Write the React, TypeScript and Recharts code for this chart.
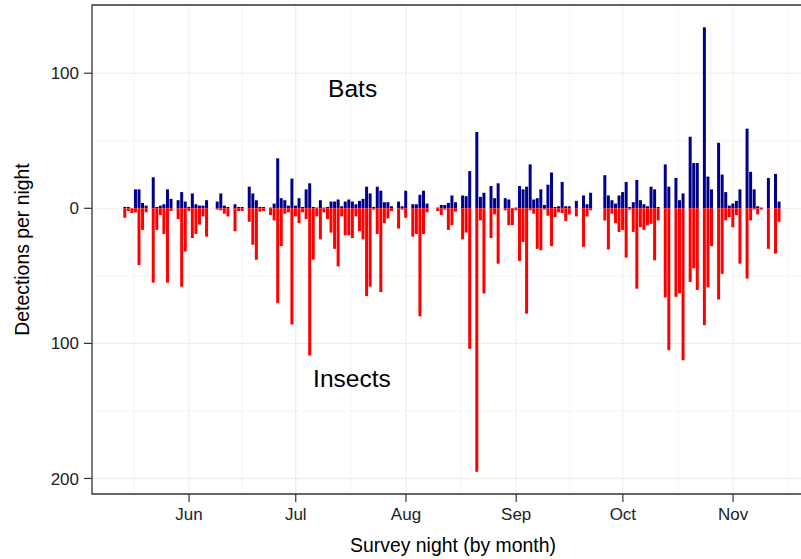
import React from 'react';
import {
  BarChart,
  Bar,
  XAxis,
  YAxis,
  CartesianGrid,
  ReferenceArea,
  ReferenceDot,
} from 'recharts';

// Survey nights, as days relative to 1 June (negative = May)
const nights = [
  -18, -17, -16, -15, -14, -13, -12, -10, -9, -8, -7, -6, -5, -3, -2, -1,
  0, 1, 2, 3, 4, 5, 8, 9, 10, 11, 13, 14, 15, 17, 18, 19, 20, 21, 23, 24,
  25, 26, 27, 28, 29, 30, 31, 32, 33, 34, 35, 36, 37, 38, 39, 40, 41, 42,
  43, 44, 45, 46, 47, 48, 49, 50, 51, 52, 53, 54, 55, 56, 57, 59, 60, 61,
  63, 64, 65, 66, 67, 70, 71, 72, 73, 74, 75, 77, 78, 79, 81, 82, 83, 85,
  86, 87, 89, 90, 91, 92, 93, 94, 95, 96, 97, 98, 99, 100, 101, 102, 103,
  104, 105, 106, 107, 109, 111, 112, 113, 117, 118, 119, 120, 121, 122,
  123, 124, 125, 126, 127, 128, 129, 130, 131, 132, 134, 135, 137, 138,
  139, 141, 142, 143, 145, 146, 147, 149, 150, 151, 152, 153, 154, 155,
  157, 158, 159, 160, 161, 163, 165, 166,
];

// Bat detections per night
const bats = [
  1, 1, 0, 14, 14, 4, 2, 23, 1, 2, 3, 14, 7, 6, 12, 5,
  1, 11, 3, 2, 2, 6, 5, 11, 2, 1, 3, 1, 1, 16, 11, 6, 1, 1, 0.5, 3.5,
  37, 7.5, 6, 2, 22, 2, 7.5, 1, 14, 18.5, 1, 0.5, 6, 0.5, 1, 5, 5, 6.5,
  1.5, 5, 6.5, 5, 3, 5.5, 7, 16, 11, 1, 16, 13, 4.5, 4.5, 1.5, 5, 1.5, 13,
  3, 3, 10, 13, 3.5, 0.5, 2.5, 2.5, 4, 9.5, 4.5, 9.5, 9, 27.5, 56.5, 8.5, 11.5, 16.5,
  7.5, 18.5, 7.5, 6.5, 0, 0.5, 16.5, 14, 16, 32.5, 6.5, 7.5, 14, 2.5, 17.5, 26.5, 1,
  1.5, 19.5, 1.5, 1.5, 5.5, 9.5, 3, 11.5, 24.5, 9.5, 6, 3.5, 9.5, 12,
  19.5, 1, 4.5, 21, 6, 3, 1.5, 16, 14, 1, 32.5, 16, 22.5, 6,
  11, 53, 33.5, 33.5, 134, 23.5, 14, 48.5, 25, 12, 2, 3.5, 5.5, 14,
  59, 27, 14, 1.5, 0.5, 22.5, 25.5, 5,
];

// Insect detections per night (drawn downwards)
const insects = [
  7, 2, 3.5, 3, 42, 16, 3, 55, 16, 5, 19, 55, 2, 8, 58, 32,
  2, 22, 19, 12, 6, 21, 1, 1.5, 4, 6, 17, 2, 2, 10, 27, 38, 2.5, 2, 5, 9,
  70, 28, 4, 3, 86, 6, 11, 3, 8, 109, 38, 6, 23, 3, 8, 18, 30, 43,
  6, 20, 20, 22, 6, 17, 23, 65, 58, 1, 19, 62, 11, 7.5, 2, 15, 1, 7,
  21, 19, 80, 19, 3, 2, 5, 1, 16, 12.5, 2.5, 23, 18, 104, 195, 9, 63, 22,
  4.5, 41, 1.5, 12.5, 12.5, 1.5, 39, 25, 78, 1.5, 4, 30, 31, 1, 5.5, 28, 6.5,
  3, 3.5, 9.5, 4.5, 6, 28.5, 6, 1.5, 9, 30.5, 4, 11, 17.5, 16,
  36.5, 1, 17.5, 59.5, 14, 16, 12.5, 11.5, 38.5, 9, 66, 105, 65.5, 63,
  112.5, 54.5, 44.5, 60.5, 86.5, 58.5, 28, 67.5, 48.5, 9, 6.5, 14, 5, 41,
  52, 9, 1, 4.5, 1, 30, 33.5, 10,
];

// Month axis (days relative to 1 June)
const monthTicks = [0, 30, 61, 92, 122, 153];
const monthLabels = ['Jun', 'Jul', 'Aug', 'Sep', 'Oct', 'Nov'];
const minorMonthLines = [-15.5, 15, 45.5, 76.5, 107, 137.5, 168.5];

const yTicks = [100, 0, -100, -200];
const minorYLines = [50, -50, -150];

const X_DOMAIN: [number, number] = [-27.3, 175.75];
const Y_DOMAIN: [number, number] = [-211.5, 150.5];

const FONT = '"Liberation Sans", Arial, Helvetica, sans-serif';

const data = nights.map((night, i) => ({
  night,
  bats: bats[i],
  insects: -insects[i],
}));

const XTitle = (props: any) => {
  const vb = props.viewBox || { x: 92, y: 494, width: 722, height: 65 };
  return (
    <text
      x={vb.x + vb.width / 2}
      y={vb.y + 51}
      textAnchor="middle"
      dominantBaseline="central"
      fontSize={19.4}
      fill="#000"
      fontFamily={FONT}
    >
      Survey night (by month)
    </text>
  );
};

const YTitle = (props: any) => {
  const vb = props.viewBox || { x: 0, y: 5, width: 92, height: 489 };
  const cx = 22;
  const cy = vb.y + vb.height / 2;
  return (
    <text
      x={cx}
      y={cy}
      transform={`rotate(-90, ${cx}, ${cy})`}
      textAnchor="middle"
      dominantBaseline="central"
      fontSize={19.4}
      fill="#000"
      fontFamily={FONT}
    >
      Detections per night
    </text>
  );
};

export default function App() {
  return (
    <div
      style={{
        position: 'absolute',
        left: 0,
        top: 0,
        width: 801,
        height: 559,
        overflow: 'hidden',
        background: '#fff',
        fontFamily: FONT,
      }}
    >
      <BarChart
        width={830}
        height={559}
        data={data}
        margin={{ top: 5, right: 16, bottom: 0, left: 0 }}
        stackOffset="sign"
      >
        <CartesianGrid
          stroke="#f3f3f3"
          strokeWidth={0.8}
          verticalValues={minorMonthLines}
          horizontalValues={minorYLines}
        />
        <CartesianGrid
          stroke="#ebebeb"
          strokeWidth={1}
          verticalValues={monthTicks}
          horizontalValues={yTicks}
        />
        <XAxis
          dataKey="night"
          type="number"
          domain={X_DOMAIN}
          allowDataOverflow
          ticks={monthTicks}
          interval={0}
          tickFormatter={(v: number) => monthLabels[monthTicks.indexOf(v)] ?? ''}
          height={65}
          axisLine={false}
          tickLine={{ stroke: '#333', strokeWidth: 1.2 }}
          tickSize={8}
          tickMargin={6}
          tick={{ fontSize: 17, fill: '#222', fontFamily: FONT }}
          label={{ content: XTitle }}
        />
        <YAxis
          type="number"
          domain={Y_DOMAIN}
          allowDataOverflow
          ticks={yTicks}
          interval={0}
          tickFormatter={(v: number) => String(Math.abs(v))}
          width={92}
          axisLine={false}
          tickLine={{ stroke: '#333', strokeWidth: 1.2 }}
          tickSize={8}
          tickMargin={5}
          tick={{ fontSize: 17, fill: '#222', fontFamily: FONT }}
          label={{ content: YTitle }}
        />
        <Bar
          dataKey="bats"
          stackId="s"
          fill="#00008B"
          barSize={3}
          isAnimationActive={false}
        />
        <Bar
          dataKey="insects"
          stackId="s"
          fill="#FF0000"
          barSize={3}
          isAnimationActive={false}
        />
        <ReferenceArea
          x1={X_DOMAIN[0]}
          x2={X_DOMAIN[1]}
          y1={Y_DOMAIN[0]}
          y2={Y_DOMAIN[1]}
          fill="none"
          fillOpacity={0}
          stroke="#333"
          strokeWidth={1.3}
        />
        <ReferenceDot
          x={46}
          y={89}
          r={0}
          fill="none"
          stroke="none"
          label={{ value: 'Bats', position: 'center', fontSize: 24.5, fill: '#000', fontFamily: FONT }}
        />
        <ReferenceDot
          x={45.8}
          y={-126}
          r={0}
          fill="none"
          stroke="none"
          label={{ value: 'Insects', position: 'center', fontSize: 24.5, fill: '#000', fontFamily: FONT }}
        />
      </BarChart>
    </div>
  );
}
